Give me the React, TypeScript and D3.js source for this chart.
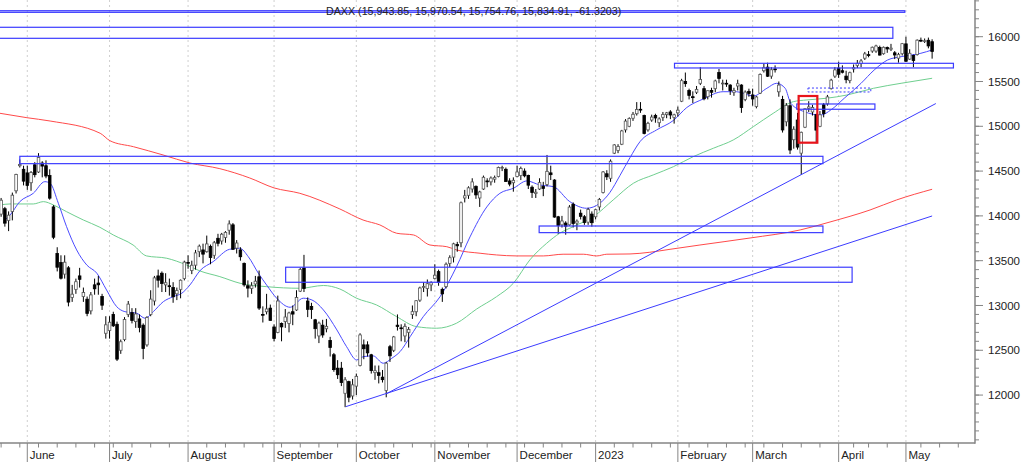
import React from 'react';
import * as d3 from 'd3';

// ---------- calendar ----------
const FIRST_DAY = '2022-05-23';
const AXIS_LAST_DAY = '2023-05-26';
const HOLIDAYS = ['2022-12-26', '2023-04-07', '2023-04-10', '2023-05-01'];

// ---------- candles [open, high, low, close] ----------
type C = [number, number, number, number];
const may22: C[] = [
  [14020, 14200, 13990, 14175], [14080, 14100, 13880, 13919], [13950, 14050, 13830, 14008],
  [14050, 14260, 13950, 14231], [14280, 14470, 14250, 14462], [14560, 14630, 14540, 14575],
  [14520, 14560, 14340, 14388],
];
const jun22: C[] = [
  [14480, 14560, 14290, 14340], [14370, 14500, 14280, 14485], [14570, 14600, 14430, 14460],
  [14490, 14700, 14480, 14653], [14590, 14610, 14430, 14556], [14560, 14620, 14420, 14445],
  [14450, 14520, 14180, 14198], [14100, 14120, 13740, 13762], [13580, 13650, 13380, 13427],
  [13480, 13560, 13290, 13304], [13350, 13560, 13300, 13483], [13420, 13440, 12990, 13038],
  [13090, 13230, 13040, 13126], [13180, 13300, 13130, 13265], [13330, 13420, 13200, 13292],
  [13100, 13200, 13040, 13144], [13070, 13100, 12880, 12912], [12940, 13150, 12900, 13118],
  [13230, 13300, 13120, 13186], [13250, 13330, 13120, 13231], [13100, 13130, 12950, 13003],
  [12690, 12880, 12630, 12784],
];
const jul22: C[] = [
  [12720, 12880, 12630, 12813], [12900, 12930, 12760, 12773], [12790, 12820, 12380, 12401],
  [12500, 12620, 12460, 12595], [12620, 12870, 12600, 12843], [12900, 13050, 12870, 13015],
  [12920, 12970, 12800, 12832], [12820, 12970, 12750, 12905], [12850, 12900, 12700, 12756],
  [12780, 12800, 12400, 12519], [12560, 12880, 12540, 12865], [12900, 13170, 12880, 13071],
  [13050, 13330, 13000, 13308], [13330, 13400, 13200, 13282], [13360, 13380, 13150, 13246],
  [13230, 13360, 13150, 13254], [13220, 13300, 13110, 13210], [13200, 13260, 13030, 13097],
  [13130, 13200, 13060, 13166], [13180, 13290, 13080, 13282], [13300, 13500, 13280, 13484],
];
const aug22: C[] = [
  [13480, 13560, 13410, 13479], [13390, 13500, 13350, 13449], [13450, 13620, 13400, 13587],
  [13600, 13680, 13540, 13662], [13620, 13690, 13470, 13573], [13600, 13780, 13590, 13687],
  [13660, 13680, 13460, 13535], [13560, 13720, 13520, 13700], [13750, 13800, 13660, 13694],
  [13720, 13810, 13680, 13795], [13760, 13830, 13700, 13816], [13840, 13950, 13790, 13910],
  [13900, 13920, 13620, 13627], [13640, 13730, 13580, 13697], [13620, 13650, 13500, 13544],
  [13470, 13480, 13210, 13230], [13220, 13280, 13090, 13194], [13190, 13260, 13130, 13220],
  [13240, 13330, 13200, 13271], [13320, 13390, 12950, 12971], [12900, 12990, 12810, 12893],
  [12930, 13130, 12900, 12961], [12970, 13010, 12830, 12834],
];
const sep22: C[] = [
  [12760, 12790, 12600, 12631], [12700, 13110, 12690, 13050], [12800, 12810, 12600, 12761],
  [12820, 12960, 12750, 12871], [12800, 12930, 12700, 12916], [12930, 13000, 12780, 12904],
  [12950, 13170, 12940, 13088], [13160, 13420, 13150, 13403], [13420, 13565, 13150, 13189],
  [13050, 13090, 12870, 12957], [12990, 13030, 12850, 12956], [12840, 12850, 12630, 12741],
  [12660, 12820, 12580, 12803], [12780, 12840, 12640, 12671], [12740, 12850, 12700, 12767],
  [12610, 12650, 12430, 12531], [12450, 12470, 12260, 12284], [12300, 12390, 12180, 12227],
  [12300, 12370, 12100, 12140], [12020, 12200, 11865, 12170], [12150, 12160, 11920, 11976],
  [11990, 12180, 11950, 12114],
];
const oct22: C[] = [
  [12100, 12240, 12000, 12209], [12330, 12690, 12320, 12671], [12560, 12620, 12400, 12517],
  [12560, 12600, 12430, 12471], [12450, 12460, 12240, 12273], [12250, 12330, 12170, 12272],
  [12250, 12330, 12130, 12220], [12200, 12280, 12140, 12172], [12050, 12370, 11975, 12356],
  [12540, 12560, 12370, 12438], [12500, 12660, 12480, 12649], [12780, 12900, 12720, 12765],
  [12750, 12790, 12600, 12741], [12660, 12800, 12590, 12767], [12700, 12760, 12530, 12731],
  [12900, 13000, 12850, 12931], [12930, 13060, 12880, 13053], [13060, 13210, 13040, 13195],
  [13200, 13260, 13150, 13211], [13190, 13290, 13100, 13243], [13230, 13270, 13160, 13253],
];
const nov22: C[] = [
  [13300, 13460, 13290, 13338], [13378, 13400, 13220, 13257], [13180, 13200, 13040, 13130],
  [13210, 13480, 13190, 13460], [13470, 13560, 13430, 13533], [13540, 13700, 13480, 13688],
  [13680, 13710, 13600, 13666], [13700, 14160, 13650, 14146], [14200, 14290, 14150, 14224],
  [14230, 14330, 14190, 14313], [14300, 14420, 14260, 14379], [14330, 14340, 14190, 14234],
  [14200, 14280, 14100, 14267], [14300, 14450, 14290, 14431], [14390, 14420, 14320, 14380],
  [14380, 14440, 14340, 14422], [14410, 14450, 14370, 14427], [14440, 14550, 14430, 14539],
  [14540, 14560, 14500, 14541], [14520, 14540, 14380, 14383], [14390, 14420, 14330, 14355],
  [14370, 14430, 14270, 14397],
];
const dec22: C[] = [
  [14440, 14560, 14430, 14490], [14450, 14550, 14400, 14529], [14500, 14530, 14430, 14447],
  [14450, 14460, 14300, 14343], [14320, 14340, 14200, 14261], [14250, 14300, 14200, 14264],
  [14300, 14420, 14290, 14371], [14330, 14380, 14220, 14306], [14350, 14680, 14330, 14497],
  [14480, 14560, 14400, 14460], [14400, 14410, 13980, 13987], [13990, 14000, 13800, 13894],
  [13900, 14000, 13870, 13943], [13920, 13940, 13790, 13885], [13900, 14120, 13890, 14098],
  [14130, 14150, 13870, 13914], [13920, 13960, 13840, 13941], [14030, 14070, 13960, 13995],
  [13990, 14010, 13900, 13926], [13930, 14090, 13900, 14071], [14020, 14050, 13880, 13924],
];
const jan23: C[] = [
  [13990, 14080, 13960, 14069], [14100, 14200, 14060, 14182], [14260, 14500, 14250, 14490],
  [14470, 14510, 14400, 14436], [14420, 14630, 14380, 14610], [14700, 14800, 14690, 14792],
  [14730, 14800, 14700, 14775], [14800, 14960, 14790, 14948], [14960, 15080, 14930, 15058],
  [15000, 15100, 14990, 15086], [15090, 15160, 15060, 15134], [15140, 15270, 15120, 15187],
  [15190, 15270, 15150, 15181], [15120, 15130, 14910, 14920], [14960, 15050, 14940, 15033],
  [15070, 15130, 15050, 15103], [15120, 15140, 15040, 15093], [15040, 15100, 14990, 15082],
  [15100, 15160, 15060, 15132], [15130, 15160, 15090, 15150], [15160, 15180, 15080, 15126],
  [15100, 15140, 15030, 15128],
];
const feb23: C[] = [
  [15150, 15220, 15110, 15180], [15280, 15530, 15270, 15509], [15500, 15600, 15440, 15476],
  [15400, 15420, 15300, 15345], [15330, 15390, 15260, 15320], [15380, 15450, 15360, 15412],
  [15480, 15660, 15460, 15523], [15420, 15450, 15290, 15307], [15330, 15400, 15300, 15397],
  [15400, 15430, 15320, 15380], [15420, 15520, 15380, 15506], [15600, 15640, 15480, 15534],
  [15480, 15520, 15400, 15482], [15480, 15520, 15440, 15477], [15460, 15470, 15350, 15398],
  [15380, 15430, 15340, 15400], [15450, 15520, 15400, 15475], [15460, 15470, 15150, 15210],
  [15300, 15400, 15280, 15382], [15390, 15420, 15330, 15365],
];
const mar23: C[] = [
  [15350, 15420, 15230, 15305], [15220, 15340, 15200, 15327], [15370, 15590, 15360, 15578],
  [15620, 15700, 15600, 15654], [15660, 15710, 15550, 15559], [15560, 15660, 15530, 15631],
  [15640, 15680, 15600, 15633], [15385, 15500, 15330, 15460], [15300, 15340, 14930, 14959],
  [15050, 15260, 15000, 15232], [15230, 15300, 14690, 14735], [14850, 15000, 14750, 14967],
  [15070, 15150, 14740, 14768], [14700, 14940, 14458, 14933], [14990, 15200, 14980, 15195],
  [15200, 15280, 15160, 15216], [15160, 15240, 15120, 15210], [15130, 15140, 14810, 14957],
  [15000, 15170, 14990, 15128], [15240, 15260, 15100, 15142], [15250, 15350, 15230, 15328],
  [15420, 15530, 15410, 15515], [15560, 15660, 15540, 15629],
];
const apr23: C[] = [
  [15650, 15720, 15540, 15581], [15620, 15680, 15590, 15603], [15560, 15620, 15480, 15520],
  [15510, 15610, 15480, 15598], [15640, 15690, 15600, 15655], [15680, 15740, 15650, 15703],
  [15700, 15750, 15660, 15729], [15760, 15830, 15740, 15808], [15800, 15840, 15770, 15790],
  [15840, 15890, 15820, 15882], [15840, 15910, 15820, 15896], [15880, 15900, 15790, 15795],
  [15810, 15890, 15800, 15882], [15880, 15890, 15820, 15863], [15860, 15920, 15840, 15872],
  [15820, 15840, 15750, 15796], [15760, 15820, 15710, 15800], [15810, 15930, 15790, 15922],
];
const may23: C[] = [
  [15920, 16000, 15720, 15726], [15750, 15860, 15740, 15815], [15790, 15800, 15660, 15734],
  [15800, 15970, 15790, 15961], [15960, 15990, 15940, 15953], [15950, 15980, 15930, 15955],
  [15960, 15990, 15870, 15897], [15944, 15971, 15755, 15835],
];
const candles: C[] = [
  ...may22, ...jun22, ...jul22, ...aug22, ...sep22, ...oct22, ...nov22,
  ...dec22, ...jan23, ...feb23, ...mar23, ...apr23, ...may23,
];

// ---------- moving averages [trading-day index, value] ----------
type P = [number, number];
const fastMA: P[] = [
  [1, 13954], [2.4, 14010], [5, 14159], [8.6, 14252], [11.7, 14382], [13.1, 14364], [15.3, 14141],
  [17.5, 13880], [20.2, 13620], [22.9, 13452], [25.6, 13360], [28.2, 13173], [30.9, 12987],
  [33.1, 12931], [36.3, 12913], [38.5, 12857], [40.7, 12931], [43.4, 13043], [46, 13098],
  [48.3, 13136], [50.5, 13229], [53.2, 13389], [56.7, 13489], [61.1, 13627], [63.8, 13639],
  [66.1, 13545], [68.8, 13360], [71, 13229], [73.7, 13081], [77.3, 12980], [80.8, 13081],
  [83.1, 13062], [86.2, 12950], [89.8, 12727], [92.4, 12540], [95.1, 12392], [96.9, 12429],
  [99.5, 12437], [102.2, 12355], [104.5, 12411], [106.7, 12485], [109.4, 12652], [112.9, 12875],
  [117.4, 13098], [121.8, 13433], [125.4, 13765], [129.9, 14100], [133.4, 14252], [137, 14308],
  [140.6, 14390], [144.1, 14345], [147.7, 14326], [152.1, 14159], [156.6, 14085], [160.1, 14140],
  [162.8, 14260], [165.5, 14450], [168.2, 14650], [170.9, 14830], [175.3, 14959], [179.8, 15065],
  [183.4, 15210], [187.8, 15305], [193.1, 15386], [196.7, 15386], [201.2, 15338], [204.8, 15424],
  [207.4, 15480], [209.7, 15424], [211.2, 15257], [214.8, 15163], [219.3, 15126], [221.9, 15182],
  [225.5, 15313], [230, 15480], [233.5, 15628], [237.1, 15740], [240.7, 15777], [246, 15815],
  [249, 15852],
];
const midMA: P[] = [
  [-0.3, 14122], [2.4, 14133], [8.6, 14133], [11.3, 14159], [14, 14122], [17.5, 14047], [22, 13954],
  [26.4, 13873], [30, 13787], [35.3, 13675], [38.9, 13553], [44.3, 13527], [49.6, 13452],
  [53.2, 13385], [58.5, 13322], [63.9, 13248], [71, 13210], [80, 13192], [86.2, 13223],
  [90.6, 13184], [95.1, 13080], [100.4, 13006], [105.8, 12875], [111.1, 12764], [116.5, 12746],
  [121.8, 12802], [127.2, 12961], [132.5, 13098], [137, 13248], [141.4, 13508], [145.9, 13694],
  [149.4, 13806], [153, 13880], [158.4, 13991], [163.7, 14178], [169.1, 14364], [174.4, 14457],
  [179.8, 14549], [185.1, 14661], [190.5, 14755], [195.8, 14847], [201.2, 14996], [206.5, 15145],
  [211.9, 15275], [215.5, 15294], [220.8, 15313], [226.2, 15349], [233.3, 15424], [240.7, 15480],
  [249, 15536],
];
const slowMA: P[] = [
  [-0.3, 15145], [6.9, 15096], [13.1, 15059], [26.5, 14922], [29.1, 14839], [35.4, 14772],
  [43.3, 14680], [50.5, 14590], [58.5, 14527], [66.5, 14423], [73, 14312], [79.9, 14252],
  [90.6, 14077], [96.8, 13954], [101.3, 13899], [105.8, 13806], [110.3, 13787], [114.7, 13675],
  [119.2, 13656], [121.8, 13620], [128.1, 13583], [132.5, 13564], [137.9, 13553], [145, 13553],
  [150.3, 13572], [155.7, 13572], [159.3, 13553], [162, 13572], [168.2, 13575], [173.5, 13594],
  [178.9, 13627], [186.9, 13675], [200.3, 13753], [213.7, 13843], [221.7, 13932], [232.4, 14066],
  [239.5, 14178], [249, 14297],
];

// ---------- drawn annotations ----------
// [startDay, endDay, upperValue, lowerValue]
const zoneBoxes: [number, number, number, number][] = [
  [-1, 241.7, 16290, 16272],
  [-1, 238.5, 16105, 15982],
  [180.1, 254.7, 15703, 15651],
  [5.0, 219.8, 14665, 14583],
  [143.9, 219.8, 13887, 13813],
  [76.1, 227.6, 13427, 13259],
  [212.8, 233.7, 15249, 15190],
];
const dashedBox: [number, number, number, number] = [215.8, 232.6, 15427, 15383];
const highlightBox: [number, number, number, number] = [213.3, 218.3, 15338, 14817];
// [startDay, startValue, endDay, endValue]
const trendLines: [number, number, number, number][] = [
  [92.2, 11871, 249, 13999],
  [103.1, 12016, 250, 15254],
];

const yMajorTicks = [12000, 12500, 13000, 13500, 14000, 14500, 15000, 15500, 16000];
const yMinorTicks = d3.range(11500, 16401, 100);
const TITLE = 'DAXX (15,943.85, 15,970.54, 15,754.76, 15,834.91, -61.3203)';

function tradingDays(): Date[] {
  const out: Date[] = [];
  const d = new Date(FIRST_DAY + 'T00:00:00Z');
  const end = new Date(AXIS_LAST_DAY + 'T00:00:00Z');
  while (d <= end) {
    const wd = d.getUTCDay();
    const s = d.toISOString().slice(0, 10);
    if (wd !== 0 && wd !== 6 && !HOLIDAYS.includes(s)) out.push(new Date(d.getTime()));
    d.setUTCDate(d.getUTCDate() + 1);
  }
  return out;
}

const W = 1024, H = 462;
const PLOT_R = 975, PLOT_B = 443;
const FONT = '"Liberation Sans", Arial, sans-serif';

export default function App() {
  const days = tradingDays();
  const xs = d3.scaleLinear().domain([-0.3, 260.47]).range([0, PLOT_R]);
  const ys = d3.scaleLinear().domain([11465, 16409.6]).range([PLOT_B, 0]);

  const monthStarts: { k: number; label: string }[] = [];
  const weekStarts: number[] = [];
  days.forEach((d, k) => {
    if (k === 0) { weekStarts.push(k); return; }
    const p = days[k - 1];
    if (d.getUTCMonth() !== p.getUTCMonth()) {
      const label = d.getUTCMonth() === 0 ? d3.utcFormat('%Y')(d) : d3.utcFormat('%B')(d);
      monthStarts.push({ k, label });
    } else if (d.getUTCDay() < p.getUTCDay()) {
      weekStarts.push(k);
    }
  });

  const line = d3.line<P>().x((p) => xs(p[0])).y((p) => ys(p[1])).curve(d3.curveMonotoneX);

  const boxRect = (b: [number, number, number, number]) => ({
    x: xs(b[0]), y: ys(b[2]), width: xs(b[1]) - xs(b[0]), height: ys(b[3]) - ys(b[2]),
  });

  return (
    <svg width={W} height={H} style={{ position: 'fixed', left: 0, top: 0, background: '#fff' }}
      fontFamily={FONT}>
      <defs>
        <clipPath id="plot"><rect x={0} y={0} width={PLOT_R} height={PLOT_B} /></clipPath>
      </defs>
      <rect x={0} y={0} width={W} height={H} fill="#fff" />
      {/* month gridlines */}
      {monthStarts.map((m) => (
        <line key={'g' + m.k} x1={xs(m.k)} x2={xs(m.k)} y1={0} y2={PLOT_B}
          stroke="#cfcfcf" strokeWidth={1} strokeDasharray="2,3" />
      ))}
      <g clipPath="url(#plot)">
        <path d={line(slowMA) || ''} fill="none" stroke="#ff4a4a" strokeWidth={1} />
        <path d={line(midMA) || ''} fill="none" stroke="#6fcf8f" strokeWidth={1} />
        <path d={line(fastMA) || ''} fill="none" stroke="#4b4bff" strokeWidth={1} />
        {candles.map((c, k) => {
          const [o, h, l, cl] = c;
          const x = xs(k);
          const up = cl >= o;
          const yTop = ys(Math.max(o, cl));
          const yBot = ys(Math.min(o, cl));
          return (
            <g key={'c' + k}>
              <line x1={x} x2={x} y1={ys(h)} y2={ys(l)} stroke="#000" strokeWidth={1} />
              <rect x={x - 1.3} y={yTop} width={2.6} height={Math.max(yBot - yTop, 0.8)}
                fill={up ? '#fff' : '#000'} stroke={up ? '#555' : '#000'} strokeWidth={0.8} />
            </g>
          );
        })}
        {zoneBoxes.map((b, i) => (
          <rect key={'b' + i} {...boxRect(b)} fill="none" stroke="#3c3cff" strokeWidth={1.2} />
        ))}
        <rect {...boxRect(dashedBox)} fill="none" stroke="#3c3cff" strokeWidth={1} strokeDasharray="2,2" />
        {trendLines.map((t, i) => (
          <line key={'t' + i} x1={xs(t[0])} y1={ys(t[1])} x2={xs(t[2])} y2={ys(t[3])}
            stroke="#3c3cff" strokeWidth={1} />
        ))}
        <rect {...boxRect(highlightBox)} fill="none" stroke="#e8141b" strokeWidth={2.2} />
      </g>
      <text x={326} y={15} fontSize={10.7} fill="#222">{TITLE}</text>
      {/* axes */}
      <line x1={PLOT_R} x2={PLOT_R} y1={0} y2={PLOT_B + 0.75} stroke="#858585" strokeWidth={1.5} />
      <line x1={0} x2={PLOT_R} y1={PLOT_B} y2={PLOT_B} stroke="#858585" strokeWidth={1.5} />
      {yMinorTicks.map((v) => (
        <line key={'ym' + v} x1={PLOT_R} x2={PLOT_R + 4} y1={ys(v)} y2={ys(v)} stroke="#858585" strokeWidth={1} />
      ))}
      {yMajorTicks.map((v) => (
        <g key={'y' + v}>
          <line x1={PLOT_R} x2={PLOT_R + 8} y1={ys(v)} y2={ys(v)} stroke="#858585" strokeWidth={1} />
          <text x={988} y={ys(v)} dy="0.35em" fontSize={11.5} fill="#222">{v}</text>
        </g>
      ))}
      {weekStarts.filter((k) => xs(k) <= PLOT_R).map((k) => (
        <line key={'w' + k} x1={xs(k)} x2={xs(k)} y1={PLOT_B} y2={PLOT_B + 4.5} stroke="#858585" strokeWidth={1} />
      ))}
      {monthStarts.filter((m) => xs(m.k) <= PLOT_R).map((m) => (
        <g key={'m' + m.k}>
          <line x1={xs(m.k)} x2={xs(m.k)} y1={PLOT_B} y2={H} stroke="#858585" strokeWidth={1} />
          <text x={xs(m.k) + 2.5} y={459} fontSize={11.5} fill="#222">{m.label}</text>
        </g>
      ))}
    </svg>
  );
}
